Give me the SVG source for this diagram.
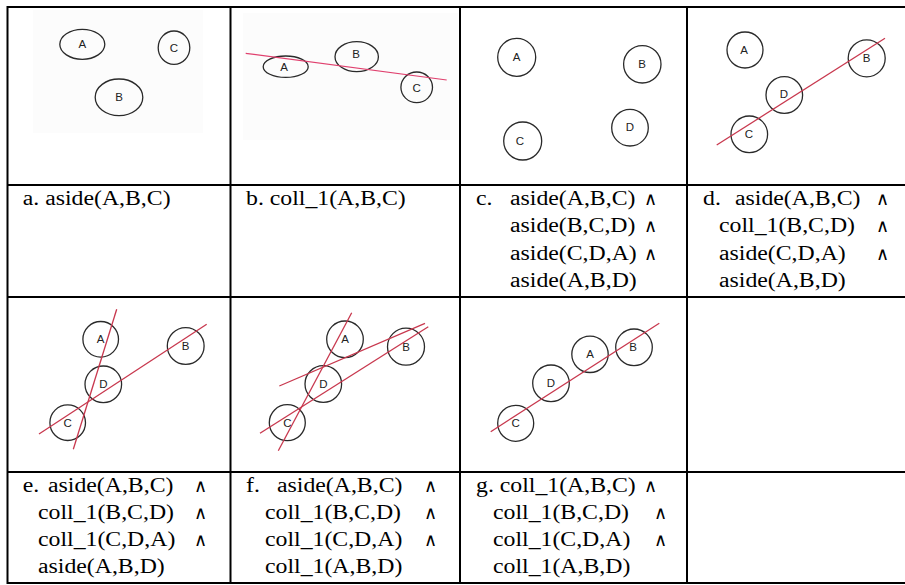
<svg xmlns="http://www.w3.org/2000/svg" width="905" height="585" viewBox="0 0 905 585">
<style>
.bg{fill:#fcfcfc;stroke:none}
.n{fill:none;stroke:#2a2a2a;stroke-width:1.3}
.l{font-family:"Liberation Sans",Arial,sans-serif;font-size:11.5px;fill:#222;text-anchor:middle;dominant-baseline:central}
.r{stroke:#c8384e;stroke-width:1.3;fill:none}
.rp{stroke:#e0406e;stroke-width:1.2;fill:none}
.g{stroke:#000;stroke-width:2;fill:none}
.t{font-family:"Liberation Serif","Times New Roman","DejaVu Serif",serif;font-size:20.5px;fill:#000}
.a{font-family:"DejaVu Sans","Liberation Serif",serif;font-size:18px;font-weight:200;fill:#000}
</style>
<rect width="905" height="585" fill="#fff"/>

<g id="fig-a">
<rect class="bg" x="33" y="10" width="170" height="123"/>
<ellipse class="n" cx="82.3" cy="44.3" rx="22.5" ry="15"/><text class="l" x="82.3" y="44.3">A</text>
<ellipse class="n" cx="174" cy="47.7" rx="15.8" ry="16.7"/><text class="l" x="174" y="48">C</text>
<ellipse class="n" cx="119" cy="97.3" rx="23.8" ry="18.3"/><text class="l" x="119" y="97">B</text>
</g>

<g id="fig-b">
<rect class="bg" x="243" y="13" width="215" height="127"/>
<ellipse class="n" cx="285.7" cy="66.7" rx="22.5" ry="10.7"/><text class="l" x="284" y="67">A</text>
<ellipse class="n" cx="356.7" cy="56.7" rx="21.7" ry="15"/><text class="l" x="356" y="54">B</text>
<ellipse class="n" cx="416.7" cy="87.3" rx="15.8" ry="15.3"/><text class="l" x="416.7" y="88">C</text>
</g>

<g id="fig-c">
<circle class="n" cx="516.7" cy="57.3" r="19"/><text class="l" x="516.7" y="57">A</text>
<circle class="n" cx="642.3" cy="64.3" r="18.7"/><text class="l" x="642" y="64">B</text>
<circle class="n" cx="522.7" cy="141" r="19"/><text class="l" x="520" y="141">C</text>
<circle class="n" cx="630" cy="127.7" r="18.3"/><text class="l" x="630" y="127">D</text>
</g>

<g id="fig-d">
<circle class="n" cx="745" cy="50" r="18"/><text class="l" x="744" y="50">A</text>
<circle class="n" cx="866.7" cy="58.3" r="18.5"/><text class="l" x="866.7" y="58">B</text>
<circle class="n" cx="784.3" cy="95" r="18.3"/><text class="l" x="784" y="94">D</text>
<circle class="n" cx="749.3" cy="134.3" r="18.3"/><text class="l" x="749" y="134">C</text>
</g>

<g id="fig-e">
<circle class="n" cx="100.7" cy="339.3" r="17.8"/><text class="l" x="100.7" y="339">A</text>
<circle class="n" cx="185.7" cy="346" r="18.4"/><text class="l" x="185.7" y="346">B</text>
<circle class="n" cx="103.3" cy="384.3" r="18.3"/><text class="l" x="103.3" y="384">D</text>
<circle class="n" cx="67.7" cy="422.7" r="17.8"/><text class="l" x="67.7" y="422.7">C</text>
</g>

<g id="fig-f">
<circle class="n" cx="345" cy="339.3" r="18.3"/><text class="l" x="345" y="339">A</text>
<circle class="n" cx="406" cy="346.7" r="18.5"/><text class="l" x="406" y="347">B</text>
<circle class="n" cx="323.3" cy="384" r="18.3"/><text class="l" x="323.3" y="384">D</text>
<circle class="n" cx="287.3" cy="422.7" r="18"/><text class="l" x="287.3" y="422.7">C</text>
</g>

<g id="fig-g">
<circle class="n" cx="590" cy="354.3" r="18.2"/><text class="l" x="590" y="354">A</text>
<circle class="n" cx="634" cy="347.3" r="18.3"/><text class="l" x="633" y="346.5">B</text>
<circle class="n" cx="551" cy="383.3" r="18.3"/><text class="l" x="551" y="383">D</text>
<circle class="n" cx="515.7" cy="423.3" r="18"/><text class="l" x="515.7" y="423">C</text>
</g>

<g id="connectors">
<line class="rp" x1="245.7" y1="53.3" x2="446.7" y2="80"/>
<line class="r" x1="716.7" y1="145" x2="885" y2="38.3"/>
<line class="r" x1="39" y1="434" x2="206.7" y2="324.3"/>
<line class="r" x1="73.3" y1="449.3" x2="116.7" y2="309.3"/>
<line class="r" x1="278.3" y1="450.7" x2="351.7" y2="312.7"/>
<line class="r" x1="279.3" y1="386" x2="425" y2="323.3"/>
<line class="r" x1="260" y1="433.3" x2="428.3" y2="326.7"/>
<line class="r" x1="490.7" y1="431.7" x2="659.3" y2="323.3"/>
</g>

<g id="grid">
<line class="g" x1="7" y1="7" x2="905" y2="7"/>
<line class="g" x1="7" y1="185" x2="905" y2="185"/>
<line class="g" x1="7" y1="297" x2="905" y2="297"/>
<line class="g" x1="7" y1="472" x2="905" y2="472"/>
<line class="g" x1="7" y1="583" x2="905" y2="583"/>
<line class="g" x1="7.5" y1="6" x2="7.5" y2="584"/>
<line class="g" x1="230.5" y1="6" x2="230.5" y2="584"/>
<line class="g" x1="460" y1="6" x2="460" y2="584"/>
<line class="g" x1="687" y1="6" x2="687" y2="584"/>
</g>

<g id="label-a">
<text class="t" transform="translate(22.7,205) scale(1.16,1)">a. aside(A,B,C)</text>
</g>
<g id="label-b">
<text class="t" transform="translate(246,205) scale(1.16,1)">b. coll_1(A,B,C)</text>
</g>
<g id="label-c">
<text class="t" transform="translate(476,205) scale(1.16,1)">c.</text>
<text class="t" transform="translate(510,205) scale(1.16,1)">aside(A,B,C)</text>
<text class="t" transform="translate(510,232.2) scale(1.16,1)">aside(B,C,D)</text>
<text class="t" transform="translate(510,259.5) scale(1.16,1)">aside(C,D,A)</text>
<text class="t" transform="translate(510,286.7) scale(1.16,1)">aside(A,B,D)</text>
<text class="a" x="644" y="205">∧</text>
<text class="a" x="644" y="232.2">∧</text>
<text class="a" x="644" y="259.5">∧</text>
</g>
<g id="label-d">
<text class="t" transform="translate(703,205) scale(1.16,1)">d.</text>
<text class="t" transform="translate(735,205) scale(1.16,1)">aside(A,B,C)</text>
<text class="t" transform="translate(719,232.2) scale(1.16,1)">coll_1(B,C,D)</text>
<text class="t" transform="translate(719,259.5) scale(1.16,1)">aside(C,D,A)</text>
<text class="t" transform="translate(719,286.7) scale(1.16,1)">aside(A,B,D)</text>
<text class="a" x="876" y="205">∧</text>
<text class="a" x="876" y="232.2">∧</text>
<text class="a" x="876" y="259.5">∧</text>
</g>
<g id="label-e">
<text class="t" transform="translate(22.7,491.5) scale(1.16,1)">e.</text>
<text class="t" transform="translate(48,491.5) scale(1.16,1)">aside(A,B,C)</text>
<text class="t" transform="translate(38,518.7) scale(1.16,1)">coll_1(B,C,D)</text>
<text class="t" transform="translate(38,546) scale(1.16,1)">coll_1(C,D,A)</text>
<text class="t" transform="translate(38,573.2) scale(1.16,1)">aside(A,B,D)</text>
<text class="a" x="194" y="491.5">∧</text>
<text class="a" x="194" y="518.7">∧</text>
<text class="a" x="194" y="546">∧</text>
</g>
<g id="label-f">
<text class="t" transform="translate(246,491.5) scale(1.16,1)">f.</text>
<text class="t" transform="translate(277,491.5) scale(1.16,1)">aside(A,B,C)</text>
<text class="t" transform="translate(265,518.7) scale(1.16,1)">coll_1(B,C,D)</text>
<text class="t" transform="translate(265,546) scale(1.16,1)">coll_1(C,D,A)</text>
<text class="t" transform="translate(265,573.2) scale(1.16,1)">coll_1(A,B,D)</text>
<text class="a" x="424" y="491.5">∧</text>
<text class="a" x="424" y="518.7">∧</text>
<text class="a" x="424" y="546">∧</text>
</g>
<g id="label-g">
<text class="t" transform="translate(476,491.5) scale(1.16,1)">g. coll_1(A,B,C)</text>
<text class="t" transform="translate(493,518.7) scale(1.16,1)">coll_1(B,C,D)</text>
<text class="t" transform="translate(493,546) scale(1.16,1)">coll_1(C,D,A)</text>
<text class="t" transform="translate(493,573.2) scale(1.16,1)">coll_1(A,B,D)</text>
<text class="a" x="644" y="491.5">∧</text>
<text class="a" x="654" y="518.7">∧</text>
<text class="a" x="654" y="546">∧</text>
</g>
</svg>
